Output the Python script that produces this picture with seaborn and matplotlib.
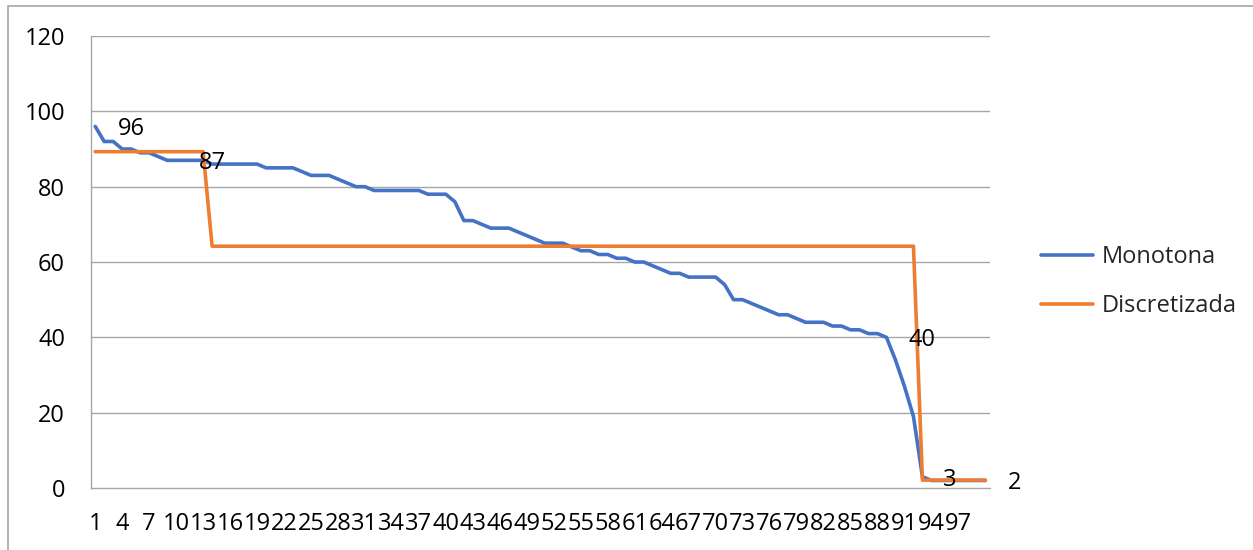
import numpy as np
import pandas as pd
import seaborn as sns
import matplotlib.pyplot as plt
from matplotlib.patches import Rectangle

# Series values, one per observation (1..100)
monotona = [96, 92, 92, 90, 90, 89, 89, 88, 87, 87,
            87, 87, 87, 86, 86, 86, 86, 86, 86, 85,
            85, 85, 85, 84, 83, 83, 83, 82, 81, 80,
            80, 79, 79, 79, 79, 79, 79, 78, 78, 78,
            76, 71, 71, 70, 69, 69, 69, 68, 67, 66,
            65, 65, 65, 64, 63, 63, 62, 62, 61, 61,
            60, 60, 59, 58, 57, 57, 56, 56, 56, 56,
            54, 50, 50, 49, 48, 47, 46, 46, 45, 44,
            44, 44, 43, 43, 42, 42, 41, 41, 40, 34,
            27, 19, 3, 2, 2, 2, 2, 2, 2, 2]
discretizada = [89.3] * 13 + [64.2] * 79 + [2.1] * 8
observations = list(range(1, len(monotona) + 1))

series_names = ["Monotona", "Discretizada"]
series_colors = ["#4472C4", "#ED7D31"]

# Point labels shown on the chart: (observation, value, text)
label_obs = [5, 14, 93, 96, 103.3]
label_vals = [96, 87, 40, 3, 2]
label_texts = ["96", "87", "40", "3", "2"]

y_ticks = [0, 20, 40, 60, 80, 100, 120]
x_tick_obs = list(range(1, 98, 3))

df = pd.DataFrame({
    "obs": observations * 2,
    "value": monotona + discretizada,
    "serie": [series_names[0]] * len(monotona) + [series_names[1]] * len(discretizada),
})

sns.set_theme(style="white")
plt.rcParams["font.family"] = ["Open Sans", "DejaVu Sans"]
FS = 17

fig = plt.figure(figsize=(12.53, 5.5), dpi=100)
ax = fig.add_axes([0.0724, 0.1127, 0.7176, 0.8218])

grid_c = "#A6A6A6"
for y in y_ticks[1:]:
    ax.axhline(y, color=grid_c, lw=1.0, zorder=0)

sns.lineplot(data=df, x="obs", y="value", hue="serie", hue_order=series_names,
             palette=series_colors, linewidth=2.6, ax=ax, legend=True,
             solid_joinstyle="round", solid_capstyle="round")

ax.set_xlim(0.5, len(monotona) + 0.5)
ax.set_ylim(0, 120)
ax.set_yticks(y_ticks)
ax.set_yticklabels([str(v) for v in y_ticks], fontsize=FS, color="#000000")
ax.set_xticks(x_tick_obs)
ax.set_xticklabels([str(v) for v in x_tick_obs], fontsize=FS, color="#000000")
ax.set_xticks(np.arange(0.5, len(monotona) + 1.0, 1.0), minor=True)
ax.tick_params(axis="x", which="major", length=0, pad=17)
ax.tick_params(axis="x", which="minor", length=6, width=0.9, color=grid_c, direction="out")
ax.tick_params(axis="y", which="major", length=6, width=1.0, color=grid_c, pad=12.5)
ax.set_xlabel("")
ax.set_ylabel("")

for side in ["top", "right"]:
    ax.spines[side].set_visible(False)
for side in ["left", "bottom"]:
    ax.spines[side].set_color(grid_c)
    ax.spines[side].set_linewidth(1.0)

for xo, yv, t in zip(label_obs, label_vals, label_texts):
    ax.text(xo, yv, t, fontsize=FS, ha="center", va="center_baseline", color="#000000",
            clip_on=False, zorder=5)

handles, labels = ax.get_legend_handles_labels()
ax.legend(handles, labels, loc="center left", bbox_to_anchor=(0.814, 0.488),
          bbox_transform=fig.transFigure, frameon=False, fontsize=FS,
          handlelength=2.2, handletextpad=0.35, labelspacing=1.05)

# Outer chart border
fig.patches.append(Rectangle((8 / 1253, -0.05), 1.2, 1 - 6 / 550 + 0.05,
                             transform=fig.transFigure, fill=False,
                             edgecolor="#A6A6A6", lw=1.2))

fig.savefig("out.png", dpi=100)
